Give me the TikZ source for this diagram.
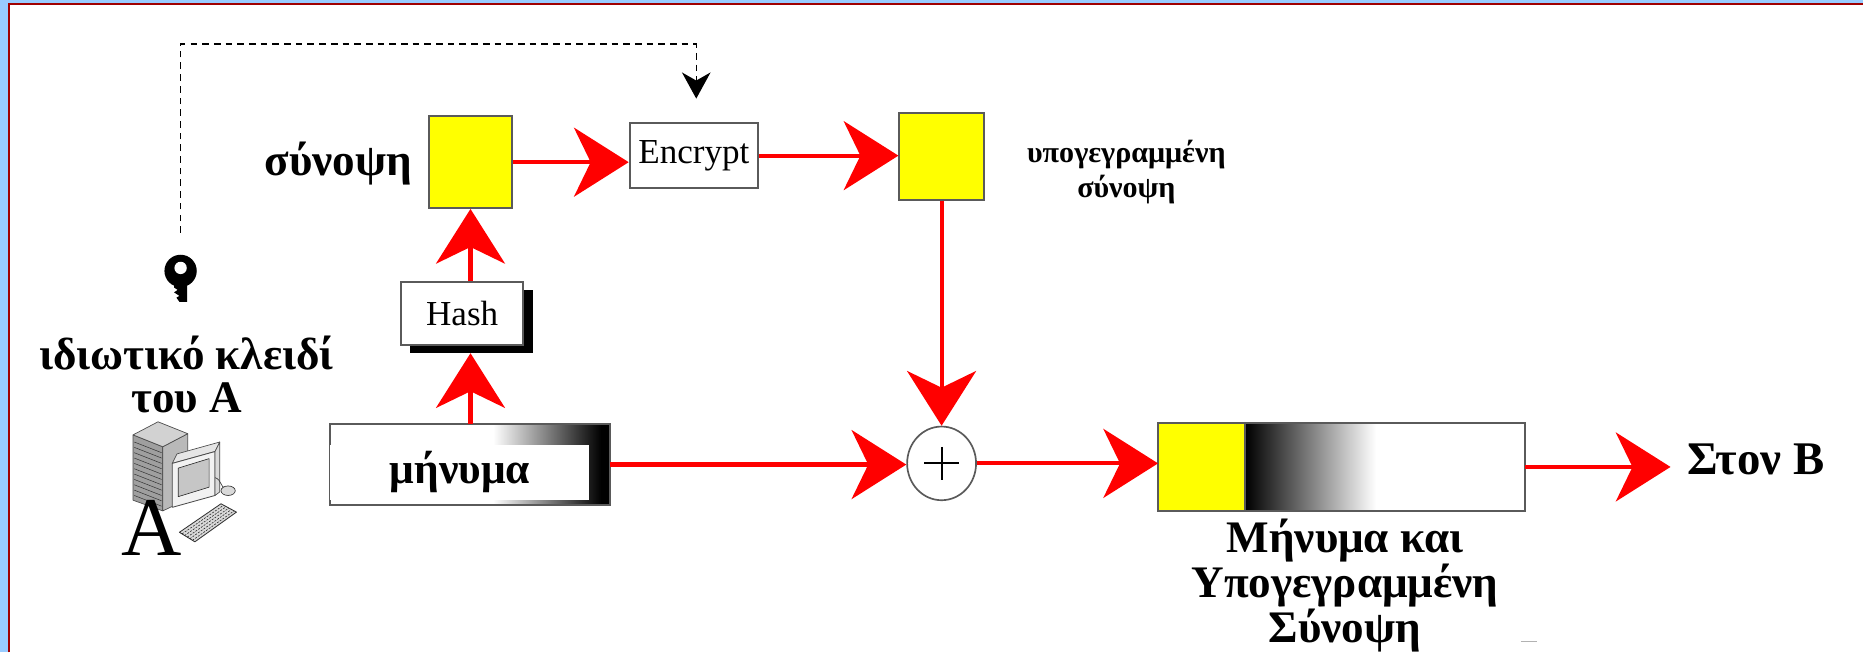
\documentclass[tikz,border=0pt]{standalone}
\usepackage{fontspec}
\setmainfont{Liberation Serif}
\usetikzlibrary{arrows.meta,shapes.geometric}

\definecolor{framebl}{HTML}{99CCFF}
\definecolor{framerd}{HTML}{A00000}
\definecolor{sigyel}{HTML}{FFFF00}
\definecolor{edgegr}{HTML}{5A5A5A}
\definecolor{flow}{HTML}{FF0000}

\tikzset{
  flowarrow/.style={draw=flow, line width=2.5pt,
    -{Stealth[length=1.15cm,width=1.45cm,inset=0.35cm]}},
  keyarrow/.style={draw=black, line width=0.8pt, dash pattern=on 4pt off 3pt,
    -{Stealth[length=0.55cm,width=0.6cm,inset=0.17cm]}},
  sigbox/.style={draw=edgegr, line width=1.2pt, fill=sigyel, inner sep=0pt},
  opbox/.style={draw=edgegr, line width=1.2pt, fill=white, inner sep=0pt,
    font=\fontsize{21}{21}\selectfont},
  biglabel/.style={font=\fontsize{27}{26}\selectfont\bfseries, align=center, inner sep=0pt},
  smalllabel/.style={font=\fontsize{18}{21}\selectfont\bfseries, align=center, inner sep=0pt},
}

\begin{document}
\begin{tikzpicture}[x=0.025cm, y=-0.025cm]
  % page and frame
  \fill[white] (0,0) rectangle (1568,549);
  \useasboundingbox (0,0) rectangle (1568,549);
  \fill[framebl] (0,0) rectangle (6.5,549);
  \fill[framebl] (0,0) rectangle (1568,2.5);
  \draw[framerd, line width=1.2pt] (7.5,549) -- (7.5,3.5) -- (1568,3.5);

  % private key
  \fill[black] (152,228) circle[radius=0.34cm];
  \fill[black] (146.5,236) -- (157.5,236) -- (157.5,254) -- (151,254)
     -- (148.5,250.5) -- (151,249) -- (146.5,246) -- (149.5,244) -- (146.5,242) -- cycle;
  \fill[white] (152,225.5) circle[radius=0.13cm];
  \coordinate (keytop) at (152,196);
  \coordinate (dashtop) at (586,37);
  \coordinate (keyin) at (586,83);

  \node[biglabel] (lkey) at (157,315) {ιδιωτικό κλειδί\\του A};

  % workstation of A
  \begin{scope}[line join=round]
    \fill[gray!75, draw=gray!60!black, line width=0.4pt]
      (112,366) -- (137,376) -- (137,430) -- (112,421) -- cycle;
    \fill[gray!55, draw=gray!60!black, line width=0.4pt]
      (137,376) -- (158,365) -- (158,420) -- (137,430) -- cycle;
    \fill[gray!35, draw=gray!60!black, line width=0.4pt]
      (112,366) -- (133,355) -- (158,365) -- (137,376) -- cycle;
    \foreach \k in {0,...,10}
      \draw[gray!40!black, line width=0.3pt] (113,372+4.5*\k) -- (136,381+4.5*\k);
    % monitor
    \fill[gray!20, draw=gray!60!black, line width=0.4pt]
      (145,390) -- (149,382) -- (185,372) -- (181,380) -- cycle;
    \fill[gray!10, draw=gray!60!black, line width=0.5pt]
      (145,390) -- (181,380) -- (181,417) -- (145,427) -- cycle;
    \fill[gray!45, draw=gray!40!black, line width=0.4pt]
      (150,394) -- (176,386) -- (176,410) -- (150,418) -- cycle;
    \fill[gray!30, draw=gray!60!black, line width=0.4pt]
      (181,380) -- (185,372) -- (185,414) -- (181,417) -- cycle;
    % mouse and cable
    \draw[gray!50!black, line width=0.4pt] (181,402) .. controls (187,404) and (185,410) .. (190,411);
    \fill[gray!30, draw=gray!40!black, line width=0.4pt] (192,413) ellipse[x radius=0.15cm, y radius=0.1cm];
    % keyboard
    \fill[gray!30, draw=gray!40!black, line width=0.5pt]
      (151,448) -- (186,424) -- (199,431) -- (164,456) -- cycle;
    \foreach \k in {1,...,5}
      \draw[gray!30!black, line width=0.35pt, dash pattern=on 1.2pt off 0.8pt]
        (151+2.2*\k,448+1.35*\k) -- (186+2.2*\k,424+1.2*\k);
  \end{scope}
  \node[font=\fontsize{50}{50}\selectfont, inner sep=0pt] (lbla) at (128,444) {A};

  % hash, digest, encryption, signed digest
  \node[sigbox, minimum width=1.75cm, minimum height=1.925cm] (dig) at (396,136.5) {};
  \node[biglabel, anchor=east] (ldig) at (347,138) {σύνοψη};
  \node[fill=black, inner sep=0pt, minimum width=2.575cm, minimum height=1.325cm] (hashsh) at (397,270.5) {};
  \node[opbox, minimum width=2.575cm, minimum height=1.325cm] (hash) at (389,263.5) {Hash};
  \node[opbox, minimum width=2.7cm, minimum height=1.375cm] (enc) at (584,131) {Encrypt};
  \node[sigbox, minimum width=1.775cm, minimum height=1.825cm] (sig) at (792.5,131.5) {};
  \node[smalllabel] (lsig) at (948,145) {υπογεγραμμένη\\σύνοψη};

  % message
  \node[draw=none, fill=white, inner sep=0pt, minimum width=5.875cm, minimum height=1.675cm] (msg) at (395.5,391) {};
  \shade[left color=white, right color=black] (415,358) rectangle (506,424);
  \fill[black] (506,358) rectangle (513,424);
  \draw[edgegr, line width=1.2pt] (msg.south west) rectangle (msg.north east);
  \node[fill=white, inner sep=0pt, minimum width=5.45cm, minimum height=1.15cm,
        font=\fontsize{26}{26}\selectfont\bfseries] (msgin) at (387,397.5) {μήνυμα};

  % combiner
  \node[draw=edgegr, line width=1pt, fill=white, ellipse, minimum width=1.45cm, minimum height=1.55cm, inner sep=0pt] (plus) at (792.5,390) {};
  \draw[line width=1.1pt] (778,390) -- (807,390) (792.5,376) -- (792.5,404);

  % signed message
  \node[draw=none, fill=white, inner sep=0pt, minimum width=7.7cm, minimum height=1.85cm] (out) at (1129,393) {};
  \fill[sigyel] (975,356) rectangle (1048,430);
  \shade[left color=black, right color=white] (1048,356) rectangle (1158,430);
  \draw[edgegr, line width=1.2pt] (out.south west) rectangle (out.north east);
  \draw[edgegr, line width=1.2pt] (1048,356) -- (1048,430);
  \node[biglabel, font=\fontsize{27}{24.5}\selectfont\bfseries] (lout) at (1132,493) {Μήνυμα και\\Υπογεγραμμένη\\Σύνοψη};
  \draw[gray!60, line width=1pt] (1280,540) -- (1294,540);
  \node[biglabel, font=\fontsize{28}{28}\selectfont\bfseries, anchor=west] (dest) at (1420,387) {Στον B};

  % connectors
  \draw[keyarrow] (keytop) |- (dashtop) -- (keyin);
  \draw[flowarrow] (msg.north -| dig.south) -- (hashsh.south -| dig.south);
  \draw[flowarrow] (hash.north -| dig.south) -- (dig.south);
  \draw[flowarrow] (dig.east) -- (dig.east -| enc.west);
  \draw[flowarrow] (enc.east) -- (enc.east -| sig.west);
  \draw[flowarrow] (sig.south) -- (plus.north);
  \draw[flowarrow] (msg.east) -- (msg.east -| plus.west);
  \draw[flowarrow] (plus.east) -- (plus.east -| out.west);
  \draw[flowarrow, shorten >=0.35cm] (out.east) -- (out.east -| dest.west);
\end{tikzpicture}
\end{document}
